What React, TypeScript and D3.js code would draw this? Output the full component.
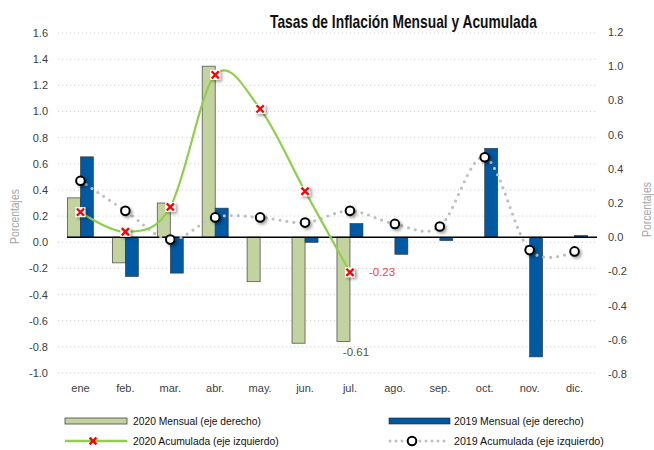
import { useEffect, useRef } from "react";
import * as d3 from "d3";

const months = ["ene", "feb.", "mar.", "abr.", "may.", "jun.", "jul.", "ago.", "sep.", "oct.", "nov.", "dic."];
// monthly rates (right axis)
const mensual2020 = [0.23, -0.15, 0.2, 1.0, -0.26, -0.62, -0.61];
const mensual2019 = [0.47, -0.23, -0.21, 0.17, 0.0, -0.03, 0.08, -0.1, -0.02, 0.52, -0.7, 0.01];
// accumulated rates (left axis)
const acum2020 = [0.23, 0.08, 0.27, 1.28, 1.02, 0.39, -0.23];
const acum2019 = [0.47, 0.24, 0.02, 0.19, 0.19, 0.15, 0.24, 0.14, 0.12, 0.65, -0.06, -0.07];
const leftTicks = [-1.0, -0.8, -0.6, -0.4, -0.2, 0, 0.2, 0.4, 0.6, 0.8, 1.0, 1.2, 1.4, 1.6];
const rightTicks = [-0.8, -0.6, -0.4, -0.2, 0, 0.2, 0.4, 0.6, 0.8, 1.0, 1.2];

const W = 654;
const H = 450;
const FONT = "'Liberation Sans Narrow', 'Arial Narrow', 'Liberation Sans', sans-serif";
const GREEN_BAR = "#c3d39f";
const BLUE_BAR = "#0059a3";
const GREEN_LINE = "#8fcf4a";
const GRAY_DOT = "#c0c0c0";

// hyphen minus like the original, not the unicode minus
const fmt1 = (d: number) => (Math.abs(d) < 1e-9 ? 0 : d).toFixed(1);
const fmt2 = (d: number) => d.toFixed(2);

const App = () => {
  const ref = useRef<SVGSVGElement>(null);

  useEffect(() => {
    const svg = d3.select(ref.current);
    svg.selectAll("*").remove();

    // no narrow font installed, so squeeze text horizontally to a target width
    const fitText = (g: any, str: string, x0: number, y0: number, target: number, rot = 0) => {
      const t = g.append("text").attr("x", 0).attr("y", 0).text(str);
      const w = (t.node() as SVGTextElement).getComputedTextLength() || target;
      const rt = rot ? ` rotate(${rot})` : "";
      t.attr("transform", `translate(${x0},${y0})${rt} scale(${target / w},1)`);
      return t;
    };

    const x = d3.scaleBand<string>().domain(months).range([58, 597]);
    const yL = d3.scaleLinear().domain([-1.0, 1.6]).range([373, 33]);
    const yR = d3.scaleLinear().domain([-0.8, 1.2]).range([374, 32]);
    const cx = (i: number) => (x(months[i]) as number) + x.bandwidth() / 2;
    const barW = 13;

    const defs = svg.append("defs");
    const f = defs.append("filter").attr("id", "shadow").attr("x", "-50%").attr("y", "-50%").attr("width", "220%").attr("height", "220%");
    f.append("feDropShadow").attr("dx", 2).attr("dy", 2).attr("stdDeviation", 1.6).attr("flood-color", "#000").attr("flood-opacity", 0.35);

    // title
    const tg = svg.append("g").attr("font-family", FONT).attr("font-weight", "bold").attr("font-size", 18).attr("fill", "#111");
    fitText(tg, "Tasas de Inflación Mensual y Acumulada", 270, 28, 267);

    // gridlines
    svg.append("g").selectAll("line").data(leftTicks).join("line")
      .attr("x1", 58).attr("x2", 597)
      .attr("y1", (d) => yL(d)).attr("y2", (d) => yL(d))
      .attr("stroke", "#cfcfcf").attr("stroke-width", 1).attr("stroke-dasharray", "1.2 2.8");

    // axes
    const left = svg.append("g").attr("transform", "translate(58,0)")
      .call(d3.axisLeft(yL).tickValues(leftTicks).tickFormat((d) => fmt1(+d)).tickSize(0).tickPadding(10));
    const right = svg.append("g").attr("transform", "translate(597,0)")
      .call(d3.axisRight(yR).tickValues(rightTicks).tickFormat((d) => fmt1(+d)).tickSize(0).tickPadding(11));
    [left, right].forEach((g) => {
      g.select(".domain").remove();
      g.selectAll("text").attr("font-family", FONT).attr("font-size", 11).attr("fill", "#404040");
    });

    svg.append("g").selectAll("text").data(months).join("text")
      .attr("x", (d) => (x(d) as number) + x.bandwidth() / 2)
      .attr("y", 392)
      .attr("text-anchor", "middle")
      .attr("font-family", FONT).attr("font-size", 11).attr("fill", "#404040")
      .text((d) => d);

    // axis titles
    const at = svg.append("g").attr("font-family", FONT).attr("font-size", 12).attr("fill", "#a6a6a6");
    fitText(at, "Porcentajes", 19, 244, 55, -90);
    fitText(at, "Porcentajes", 651, 237, 55, -90);

    // bars
    svg.append("g").selectAll("rect").data(mensual2020).join("rect")
      .attr("x", (_d, i) => cx(i) - barW)
      .attr("y", (d) => yR(Math.max(0, d)))
      .attr("width", barW)
      .attr("height", (d) => Math.abs(yR(d) - yR(0)))
      .attr("fill", GREEN_BAR).attr("stroke", "#555").attr("stroke-width", 0.8);
    svg.append("g").selectAll("rect").data(mensual2019).join("rect")
      .attr("x", (_d, i) => cx(i))
      .attr("y", (d) => yR(Math.max(0, d)))
      .attr("width", barW)
      .attr("height", (d) => Math.abs(yR(d) - yR(0)))
      .attr("fill", BLUE_BAR).attr("stroke", "#333").attr("stroke-width", 0.6);

    // zero line of the right axis
    svg.append("line")
      .attr("x1", 67).attr("x2", 597)
      .attr("y1", yR(0)).attr("y2", yR(0))
      .attr("stroke", "#000").attr("stroke-width", 1.5);

    const smooth = d3.line<number>().x((_d, i) => cx(i)).y((d) => yL(d)).curve(d3.curveCardinal.tension(0));

    // 2019 accumulated: dotted smooth line
    svg.append("path").datum(acum2019)
      .attr("d", smooth)
      .attr("fill", "none").attr("stroke", GRAY_DOT).attr("stroke-width", 3.2)
      .attr("stroke-linecap", "round").attr("stroke-dasharray", "0 7");

    // 2020 accumulated: smooth green line
    svg.append("path").datum(acum2020)
      .attr("d", smooth)
      .attr("fill", "none").attr("stroke", GREEN_LINE).attr("stroke-width", 2.2);

    // markers
    const drawCircle = (g: any, px: number, py: number) => {
      g.append("circle").attr("cx", px).attr("cy", py).attr("r", 4.3)
        .attr("fill", "#fff").attr("stroke", "#000").attr("stroke-width", 2)
        .attr("filter", "url(#shadow)");
    };
    const drawCross = (g: any, px: number, py: number) => {
      const m = g.append("g").attr("transform", `translate(${px},${py})`);
      m.append("rect").attr("x", -5).attr("y", -5).attr("width", 10).attr("height", 10)
        .attr("fill", "#fff").attr("filter", "url(#shadow)");
      const s = 3.6;
      m.append("path").attr("d", `M${-s},${-s}L${s},${s}M${-s},${s}L${s},${-s}`)
        .attr("stroke", "#ff0000").attr("stroke-width", 2.3).attr("fill", "none");
    };
    const mk = svg.append("g");
    acum2019.forEach((d, i) => drawCircle(mk, cx(i), yL(d)));
    acum2020.forEach((d, i) => drawCross(mk, cx(i), yL(d)));

    // value labels
    const last = acum2020.length - 1;
    svg.append("text")
      .attr("x", cx(last) + 19).attr("y", yL(acum2020[last]) + 4)
      .attr("font-family", FONT).attr("font-size", 11.5).attr("fill", "#ff4040")
      .text(fmt2(acum2020[last]));
    svg.append("text")
      .attr("x", cx(last) + 6).attr("y", yR(mensual2020[last]) + 14)
      .attr("text-anchor", "middle")
      .attr("font-family", FONT).attr("font-size", 11.5).attr("fill", "#4f6228")
      .text(fmt2(mensual2020[last]));

    // legend
    const lg = svg.append("g").attr("font-family", FONT).attr("font-size", 11.5).attr("fill", "#111");
    lg.append("rect").attr("x", 65).attr("y", 418).attr("width", 62).attr("height", 6)
      .attr("fill", GREEN_BAR).attr("stroke", "#444").attr("stroke-width", 0.8);
    fitText(lg, "2020 Mensual (eje derecho)", 133, 425, 128);
    lg.append("rect").attr("x", 389).attr("y", 418).attr("width", 61).attr("height", 6)
      .attr("fill", BLUE_BAR).attr("stroke", "#222").attr("stroke-width", 0.6);
    fitText(lg, "2019 Mensual (eje derecho)", 454, 425, 130);

    lg.append("line").attr("x1", 65).attr("x2", 127).attr("y1", 441).attr("y2", 441)
      .attr("stroke", GREEN_LINE).attr("stroke-width", 2.5);
    const lx = lg.append("g").attr("transform", "translate(93,441)");
    lx.append("path").attr("d", "M-3.4,-3.4L3.4,3.4M-3.4,3.4L3.4,-3.4")
      .attr("stroke", "#ff0000").attr("stroke-width", 2.3);
    fitText(lg, "2020 Acumulada (eje izquierdo)", 133, 445, 146);

    lg.append("line").attr("x1", 390).attr("x2", 450).attr("y1", 441).attr("y2", 441)
      .attr("stroke", GRAY_DOT).attr("stroke-width", 3).attr("stroke-linecap", "round").attr("stroke-dasharray", "0 6");
    lg.append("circle").attr("cx", 412).attr("cy", 441).attr("r", 4.3)
      .attr("fill", "#fff").attr("stroke", "#000").attr("stroke-width", 2);
    fitText(lg, "2019 Acumulada (eje izquierdo)", 454, 445, 150);
  }, []);

  return (
    <div style={{ position: "absolute", left: 0, top: 0 }}>
      <svg ref={ref} width={W} height={H} style={{ display: "block", background: "#fff" }}></svg>
    </div>
  );
};

export default App;
